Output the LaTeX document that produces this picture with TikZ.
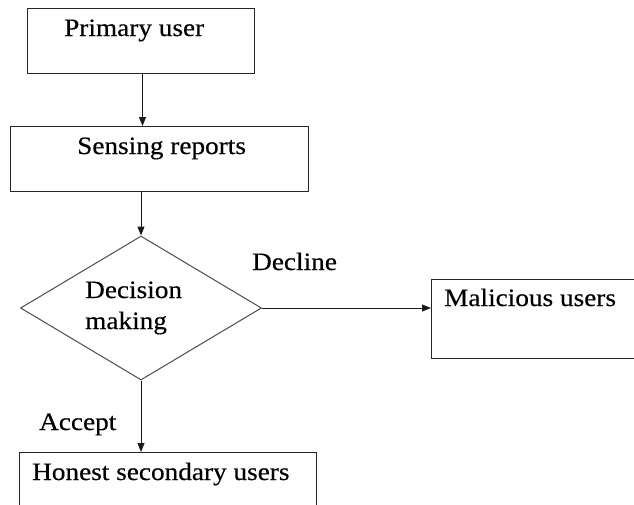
\documentclass[tikz,border=0pt]{standalone}
\usepackage{fontspec}
\setmainfont[FakeStretch=1.09,FakeBold=0.4]{Liberation Serif}
\usetikzlibrary{shapes.geometric,arrows.meta}
\begin{document}
\begin{tikzpicture}[x=1pt,y=-1pt,
  boxst/.style={draw=black!85,line width=1pt,rectangle,inner sep=0pt,anchor=north west},
  txt/.style={inner sep=0pt,anchor=base west,font=\fontsize{25}{31}\selectfont},
  arr/.style={draw=black!90,line width=1pt,-{Triangle[length=9pt,width=7pt]}}]
\clip (0,0) rectangle (634,504);
\fill[white] (0,0) rectangle (634,504);
% boxes
\node[boxst,minimum width=227pt,minimum height=65pt] (pu) at (27,8) {};
\node[boxst,minimum width=298pt,minimum height=65pt] (sr) at (10,126) {};
\node[draw=black!70,line width=1pt,shape=diamond,inner sep=0pt,aspect=1.674,
      minimum width=241pt,minimum height=144pt] (dm) at (141,308) {};
\node[boxst,minimum width=215pt,minimum height=79pt] (mu) at (431,279) {};
\node[boxst,minimum width=297pt,minimum height=70pt] (hs) at (19,452) {};
% texts
\node[txt] (tpu) at (64,36) {Primary user};
\node[txt] (tsr) at (77,154) {Sensing reports};
\node[txt] (tdm1) at (85,298) {Decision};
\node[txt] (tdm2) at (85,329) {making};
\node[txt] (tdec) at (252,270) {Decline};
\node[txt] (tmu) at (444,306) {Malicious users};
\node[txt] (tacc) at (39,430) {Accept};
\node[txt] (ths) at (32,480) {Honest secondary users};
% arrows
\draw[arr] ([xshift=1.5pt]pu.south) -- ([xshift=1.5pt]pu.south |- sr.north);
\draw[arr] (dm.north |- sr.south) -- (dm.north);
\draw[arr] (dm.east) -- (dm.east -| mu.west);
\draw[arr] (dm.south) -- (dm.south |- hs.north);
\end{tikzpicture}
\end{document}
